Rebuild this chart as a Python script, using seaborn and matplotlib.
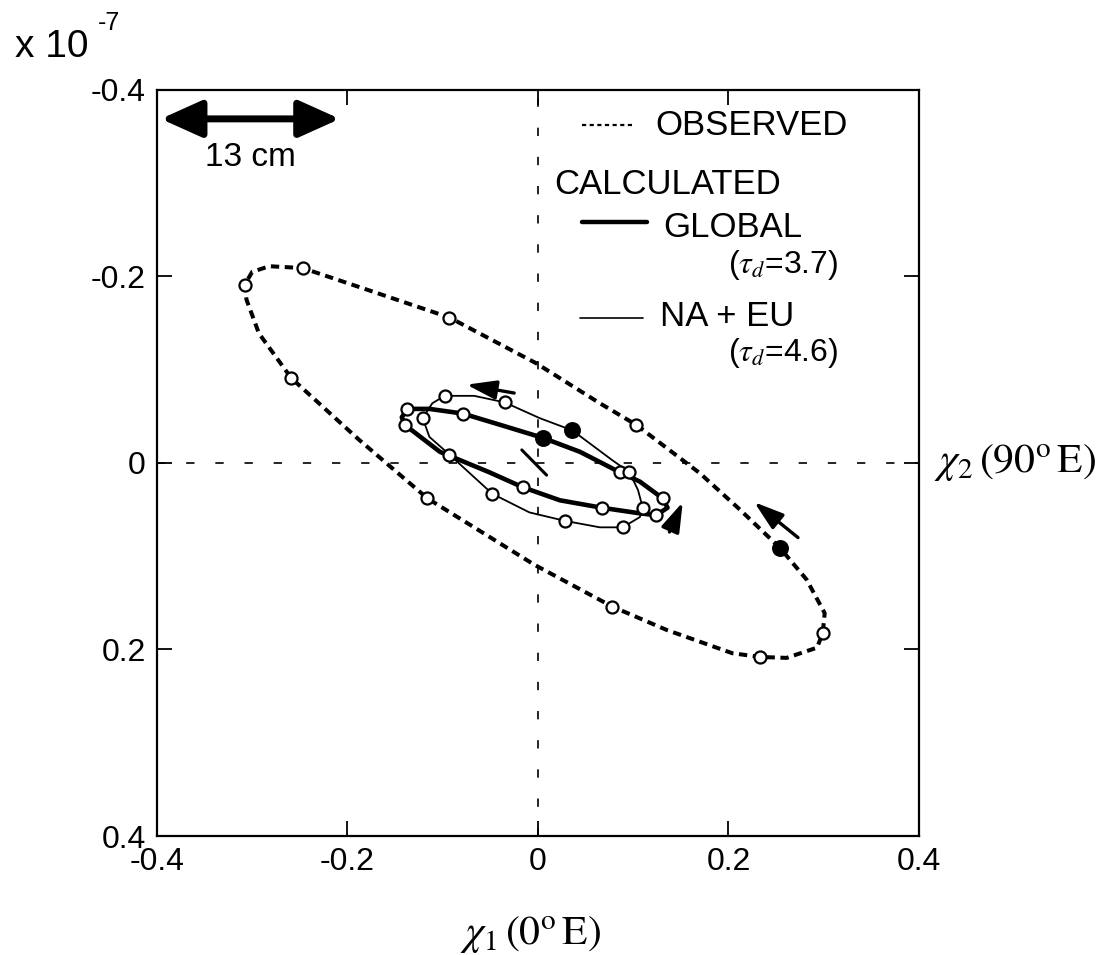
import numpy as np
import pandas as pd
import matplotlib
matplotlib.use("Agg")
import matplotlib.pyplot as plt
import seaborn as sns

# ---------------- data (units x 1e-7) ----------------
# observed polar-motion excitation loop (chi1, chi2)
obs_x = [0.254, 0.212, 0.170, 0.103, 0.065, -0.002, -0.093, -0.177, -0.247, -0.282,
         -0.300, -0.308, -0.306, -0.293, -0.259, -0.188, -0.116, -0.004, 0.078, 0.135,
         0.204, 0.233, 0.261, 0.293, 0.299, 0.301, 0.282]
obs_y = [0.091, 0.050, 0.011, -0.041, -0.064, -0.107, -0.156, -0.185, -0.209, -0.211,
         -0.205, -0.191, -0.175, -0.139, -0.091, -0.025, 0.038, 0.109, 0.154, 0.179,
         0.204, 0.208, 0.209, 0.198, 0.182, 0.161, 0.125]
obs_open = [3, 6, 8, 11, 14, 16, 18, 21, 24]
obs_filled = [0]

# calculated: GLOBAL (tau_d = 3.7)
glob_x = [0.005, -0.040, -0.079, -0.114, -0.137, -0.143, -0.140, -0.103, -0.051, -0.016,
          0.023, 0.067, 0.107, 0.124, 0.136, 0.131, 0.107, 0.086, 0.044]
glob_y = [-0.027, -0.041, -0.053, -0.058, -0.058, -0.049, -0.041, -0.012, 0.010, 0.026,
          0.040, 0.048, 0.054, 0.056, 0.048, 0.038, 0.020, 0.010, -0.012]
glob_open = [2, 4, 6, 9, 11, 13, 15, 17]
glob_filled = [0]

# calculated: NA + EU (tau_d = 4.6)
naeu_x = [0.036, 0.002, -0.035, -0.067, -0.098, -0.111, -0.121, -0.114, -0.093, -0.048,
          -0.009, 0.028, 0.065, 0.089, 0.107, 0.110, 0.105, 0.096, 0.078]
naeu_y = [-0.035, -0.048, -0.065, -0.072, -0.072, -0.064, -0.048, -0.028, -0.009, 0.033,
          0.053, 0.062, 0.069, 0.069, 0.058, 0.048, 0.029, 0.010, -0.003]
naeu_open = [2, 4, 6, 8, 9, 11, 13, 15, 17]
naeu_filled = [0]

# direction arrows (tail -> head)
arrows_tail = [(0.273, 0.080), (-0.025, -0.075), (0.138, 0.074)]
arrows_head = [(0.227, 0.042), (-0.075, -0.084), (0.152, 0.042)]
# short segment near centre
seg_x = [-0.017, 0.009]
seg_y = [-0.014, 0.013]
# scale bar "13 cm"
scale_x = [-0.396, -0.208]
scale_y = -0.369

ticks = [-0.4, -0.2, 0.0, 0.2, 0.4]
tick_labels = ["-0.4", "-0.2", "0", "0.2", "0.4"]

# ---------------- style ----------------
sns.set_style("ticks")
plt.rcParams["font.family"] = ["Liberation Sans", "DejaVu Sans"]
plt.rcParams["mathtext.fontset"] = "stix"
plt.rcParams["lines.scale_dashes"] = False
plt.rcParams["text.color"] = "black"
plt.rcParams["xtick.labelcolor"] = "black"
plt.rcParams["ytick.labelcolor"] = "black"

fig = plt.figure(figsize=(11.15, 9.55), dpi=100)
ax = fig.add_axes([0.1408, 0.1246, 0.6834, 0.7812])

# reference axes (dashed at 0)
ax.axhline(0, color="black", lw=1.2, linestyle=(0, (6, 15)), zorder=1)
ax.axvline(0, color="black", lw=1.2, linestyle=(0, (6, 15)), zorder=1)


def closed(a):
    return list(a) + [a[0]]


# loops
sns.lineplot(x=closed(obs_x), y=closed(obs_y), sort=False, estimator=None, ax=ax,
             color="black", lw=2.9, linestyle=(0, (6.0, 4.0)), zorder=2)
sns.lineplot(x=closed(glob_x), y=closed(glob_y), sort=False, estimator=None, ax=ax,
             color="black", lw=3.3, zorder=3)
sns.lineplot(x=closed(naeu_x), y=closed(naeu_y), sort=False, estimator=None, ax=ax,
             color="black", lw=1.3, zorder=3)

# markers
for xs, ys, op, fi in [(obs_x, obs_y, obs_open, obs_filled),
                       (glob_x, glob_y, glob_open, glob_filled),
                       (naeu_x, naeu_y, naeu_open, naeu_filled)]:
    sns.scatterplot(x=[xs[i] for i in op], y=[ys[i] for i in op], ax=ax, marker="o",
                    s=75, facecolor="white", edgecolor="black", linewidth=1.6, zorder=5)
    sns.scatterplot(x=[xs[i] for i in fi], y=[ys[i] for i in fi], ax=ax, marker="o",
                    s=125, color="black", edgecolor="black", linewidth=1, zorder=6)

# centre segment
ax.plot(seg_x, seg_y, color="black", lw=2.2, zorder=4)

# direction arrows
for t, h in zip(arrows_tail, arrows_head):
    ax.annotate("", xy=h, xytext=t,
                arrowprops=dict(arrowstyle="-|>,head_length=1.0,head_width=0.32",
                                mutation_scale=18, lw=2.4, color="black",
                                shrinkA=0, shrinkB=0), zorder=7)

# scale bar
ax.annotate("", xy=(scale_x[1], scale_y), xytext=(scale_x[0], scale_y),
            arrowprops=dict(arrowstyle="<|-|>,head_length=1.0,head_width=0.45",
                            mutation_scale=25, lw=5, color="black",
                            shrinkA=0, shrinkB=0))
ax.text((scale_x[0] + scale_x[1]) / 2, -0.328, "13 cm", ha="center", va="center",
        fontsize=24)

# axes setup
ax.set_xlim(-0.4, 0.4)
ax.set_ylim(0.4, -0.4)
ax.set_xticks(ticks)
ax.set_xticklabels(tick_labels)
ax.set_yticks(ticks)
ax.set_yticklabels(tick_labels)
ax.tick_params(direction="in", length=11, width=1.3, top=True, right=True,
               labelsize=23, pad=8, color="black")
for sp in ax.spines.values():
    sp.set_linewidth(1.6)
    sp.set_color("black")
ax.set_xlabel("")
ax.set_ylabel("")

# legend (manual)
tr = ax.transAxes
ax.plot([0.558, 0.625], [0.953, 0.953], transform=tr, color="black", lw=1.6,
        linestyle=(0, (3, 2.5)))
ax.text(0.654, 0.953, "OBSERVED", transform=tr, ha="left", va="center", fontsize=25)
ax.text(0.521, 0.873, "CALCULATED", transform=tr, ha="left", va="center", fontsize=25)
ax.plot([0.558, 0.643], [0.823, 0.823], transform=tr, color="black", lw=3.2)
ax.text(0.664, 0.815, "GLOBAL", transform=tr, ha="left", va="center", fontsize=25)
ax.text(0.749, 0.765, r"($\tau_d$=3.7)", transform=tr, ha="left", va="center", fontsize=23)
ax.plot([0.555, 0.638], [0.694, 0.694], transform=tr, color="black", lw=1.2)
ax.text(0.660, 0.696, "NA + EU", transform=tr, ha="left", va="center", fontsize=25)
ax.text(0.749, 0.647, r"($\tau_d$=4.6)", transform=tr, ha="left", va="center", fontsize=23)

# exponent and axis labels
fig.text(0.0135, 0.951, "x 10", ha="left", va="center", fontsize=28)
fig.text(0.088, 0.976, "-7", ha="left", va="center", fontsize=18)
fig.text(0.476, 0.021, r"$\chi_{1}\,(0^{\mathrm{o}}\,\mathrm{E})$", ha="center",
         va="center", fontsize=30)
fig.text(0.838, 0.515, r"$\chi_{2}\,(90^{\mathrm{o}}\,\mathrm{E})$", ha="left",
         va="center", fontsize=30)

fig.savefig("out.png", dpi=100, facecolor="white")
